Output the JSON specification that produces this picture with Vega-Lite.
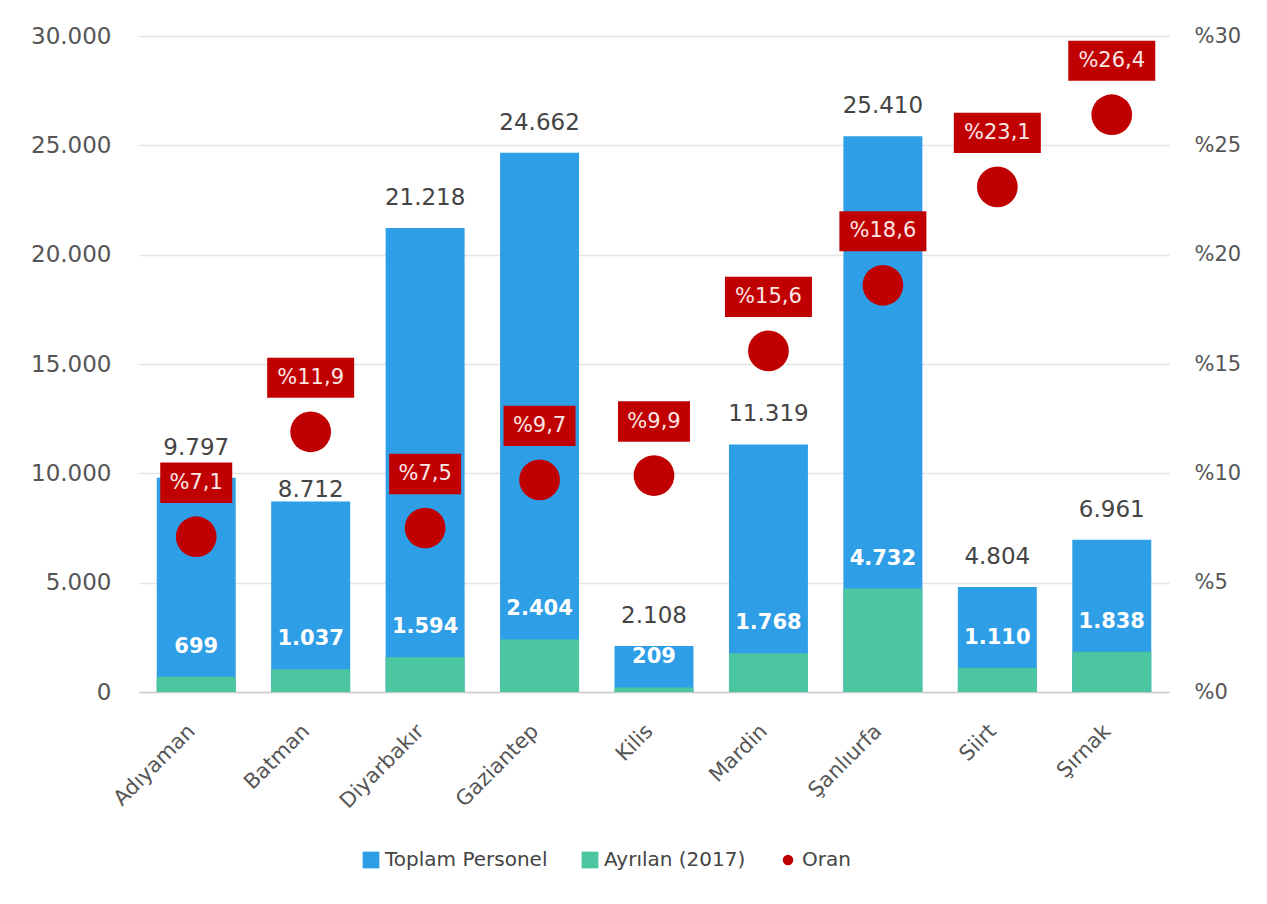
{
  "$schema": "https://vega.github.io/schema/vega-lite/v6.json",
  "autosize": {"type": "none"},
  "width": 1030,
  "height": 656,
  "padding": {"left": 139, "top": 36, "right": 98, "bottom": 212},
  "background": "white",
  "config": {
    "locale": {"number": {"decimal": ",", "thousands": ".", "grouping": [3], "currency": ["", ""]}},
    "font": "DejaVu Sans",
    "view": {"stroke": null},
    "axis": {"labelFont": "DejaVu Sans", "labelFontSize": 21, "labelColor": "#555555", "ticks": false, "title": null}
  },
  "data": {
    "values": [
      {"il": "Adıyaman", "Toplam": 9797, "Ayrilan": 699, "Oran": 7.1},
      {"il": "Batman", "Toplam": 8712, "Ayrilan": 1037, "Oran": 11.9},
      {"il": "Diyarbakır", "Toplam": 21218, "Ayrilan": 1594, "Oran": 7.5},
      {"il": "Gaziantep", "Toplam": 24662, "Ayrilan": 2404, "Oran": 9.7},
      {"il": "Kilis", "Toplam": 2108, "Ayrilan": 209, "Oran": 9.9},
      {"il": "Mardin", "Toplam": 11319, "Ayrilan": 1768, "Oran": 15.6},
      {"il": "Şanlıurfa", "Toplam": 25410, "Ayrilan": 4732, "Oran": 18.6},
      {"il": "Siirt", "Toplam": 4804, "Ayrilan": 1110, "Oran": 23.1},
      {"il": "Şırnak", "Toplam": 6961, "Ayrilan": 1838, "Oran": 26.4}
    ]
  },
  "encoding": {
    "x": {
      "field": "il", "type": "nominal", "sort": null,
      "scale": {"paddingInner": 0.31, "paddingOuter": 0.155},
      "axis": {"labelAngle": -45, "labelPadding": 28, "labelOffset": -12, "domain": true, "domainColor": "#cccccc", "domainWidth": 1.5, "grid": false}
    }
  },
  "layer": [
    {
      "layer": [
        {
          "mark": {"type": "bar"},
          "encoding": {
            "y": {"field": "Toplam", "type": "quantitative", "scale": {"domain": [0, 30000], "nice": false},
              "axis": {"orient": "left", "format": ",d", "tickCount": 6, "grid": true, "gridColor": "#e4e4e4", "gridWidth": 1.5, "domain": false, "labelPadding": 28, "labelFontSize": 23}},
            "color": {"datum": "Toplam Personel", "type": "nominal",
              "scale": {"domain": ["Toplam Personel", "Ayrılan (2017)", "Oran"], "range": ["#2e9ee6", "#4bc6a1", "#c00000"]},
              "legend": {"title": null, "orient": "none", "legendX": 222, "legendY": 814, "direction": "horizontal",
                "labelFontSize": 20, "labelColor": "#444444", "labelFont": "DejaVu Sans", "labelLimit": 400, "columnPadding": 32, "symbolStrokeWidth": 0,
                "encode": {"symbols": {"update": {
                  "shape": {"signal": "datum.value == 'Oran' ? 'circle' : 'square'"},
                  "size": {"signal": "datum.value == 'Oran' ? 110 : 280"},
                  "strokeWidth": {"value": 0}}}}}
            }
          }
        },
        {
          "mark": {"type": "bar"},
          "encoding": {
            "y": {"field": "Ayrilan", "type": "quantitative"},
            "color": {"datum": "Ayrılan (2017)", "type": "nominal"}
          }
        },
        {
          "transform": [{"filter": "datum.il != 'Batman'"}],
          "mark": {"type": "text", "fontSize": 23, "color": "#444444", "dy": -30},
          "encoding": {
            "y": {"field": "Toplam", "type": "quantitative"},
            "text": {"field": "Toplam", "type": "quantitative", "format": ",d"}
          }
        },
        {
          "transform": [{"filter": "datum.il == 'Batman'"}],
          "mark": {"type": "text", "fontSize": 23, "color": "#444444", "dy": -11},
          "encoding": {
            "y": {"field": "Toplam", "type": "quantitative"},
            "text": {"field": "Toplam", "type": "quantitative", "format": ",d"}
          }
        },
        {
          "mark": {"type": "text", "fontSize": 21, "fontWeight": "bold", "color": "#ffffff", "dy": -30},
          "encoding": {
            "y": {"field": "Ayrilan", "type": "quantitative"},
            "text": {"field": "Ayrilan", "type": "quantitative", "format": ",d"}
          }
        }
      ]
    },
    {
      "layer": [
        {
          "mark": {"type": "point", "filled": true, "size": 1660, "opacity": 1, "strokeWidth": 0},
          "encoding": {
            "y": {"field": "Oran", "type": "quantitative", "scale": {"domain": [0, 30], "nice": false},
              "axis": {"orient": "right", "tickCount": 6, "grid": false, "domain": false, "labelPadding": 25, "labelExpr": "'%' + datum.value"}},
            "color": {"datum": "Oran", "type": "nominal"}
          }
        },
        {
          "transform": [{"filter": "datum.Oran < 10"}],
          "mark": {"type": "point", "filled": true, "opacity": 1, "color": "#c00000", "strokeWidth": 0, "yOffset": -54, "size": 5184,
            "shape": "M-1,-0.56L1,-0.56L1,0.56L-1,0.56Z"},
          "encoding": {"y": {"field": "Oran", "type": "quantitative"}}
        },
        {
          "transform": [{"filter": "datum.Oran >= 10"}],
          "mark": {"type": "point", "filled": true, "opacity": 1, "color": "#c00000", "strokeWidth": 0, "yOffset": -54, "size": 7569,
            "shape": "M-1,-0.46L1,-0.46L1,0.46L-1,0.46Z"},
          "encoding": {"y": {"field": "Oran", "type": "quantitative"}}
        },
        {
          "mark": {"type": "text", "fontSize": 21, "color": "#fbe6e6", "yOffset": -54, "baseline": "middle",
            "text": {"expr": "'%' + format(datum.Oran, '.1f')"}},
          "encoding": {"y": {"field": "Oran", "type": "quantitative"}}
        }
      ]
    }
  ],
  "resolve": {"scale": {"y": "independent"}}
}
